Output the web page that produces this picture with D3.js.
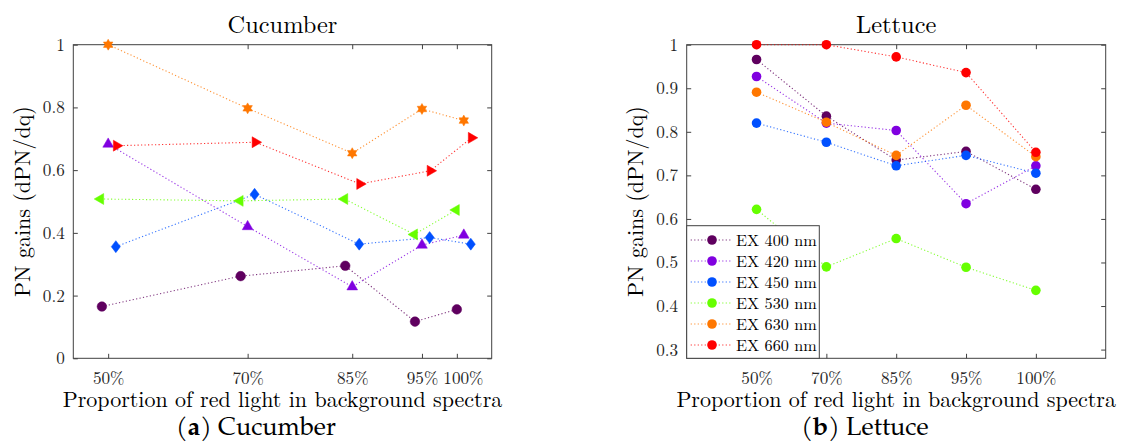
<!DOCTYPE html>
<html><head><meta charset="utf-8">
<script src="https://cdn.jsdelivr.net/npm/d3@7"></script>
<style>body{margin:0;background:#fff} svg{display:block}</style>
</head><body>
<svg id="c" width="1123" height="448"></svg>
<script>
// ---------- data ----------
const seriesNames = ["EX 400 nm","EX 420 nm","EX 450 nm","EX 530 nm","EX 630 nm","EX 660 nm"];
const seriesColors = ["#5f005f","#8000e0","#0050ff","#66ff00","#ff7700","#ff0000"];
const proportionTicks = [50,70,85,95,100];
const proportionLabels = ["50%","70%","85%","95%","100%"];
const cucYTicks = [0,0.2,0.4,0.6,0.8,1];
const letYTicks = [0.3,0.4,0.5,0.6,0.7,0.8,0.9,1];

// Cucumber (x positions are slightly offset per series in the original)
const cucX400 = [49.1,69.0,84.0,94.0,100.0];
const cucY400 = [0.165,0.262,0.295,0.117,0.156];
const cucX420 = [50.0,70.0,85.0,95.0,101.0];
const cucY420 = [0.683,0.420,0.228,0.361,0.393];
const cucX450 = [51.1,71.0,86.0,96.1,102.0];
const cucY450 = [0.356,0.523,0.364,0.385,0.364];
const cucX530 = [48.9,68.9,83.9,93.9,99.9];
const cucY530 = [0.508,0.502,0.508,0.395,0.473];
const cucX630 = [50.0,70.0,85.0,95.0,101.0];
const cucY630 = [1.000,0.797,0.654,0.795,0.758];
const cucX660 = [51.2,71.1,86.1,96.2,102.1];
const cucY660 = [0.678,0.689,0.556,0.598,0.703];

// Lettuce
const letY400 = [0.966,0.836,0.735,0.755,0.668];
const letY420 = [0.927,0.820,0.803,0.635,0.722];
const letY450 = [0.820,0.776,0.722,0.746,0.705];
const letY530 = [0.622,0.490,0.555,0.489,0.436];
const letY630 = [0.891,0.822,0.746,0.861,0.743];
const letY660 = [1.000,1.000,0.972,0.936,0.753];

// ---------- helpers ----------
const svg = d3.select("#c");
const FONT = "'Latin Modern Roman', 'Liberation Serif', serif";
const CAPFONT = "'TeX Gyre Pagella', 'P052', 'URW Palladio L', 'Palatino Linotype', 'Palatino', 'DejaVu Serif', serif";
const AX = "#404040";
const TICKFS = 17.2, LABFS = 22, TITFS = 24.4, LEGFS = 16.2;

const hexagram = { draw(ctx, size){ const R=Math.sqrt(size), r=R/Math.sqrt(3);
  for(let i=0;i<12;i++){ const a=-Math.PI/2+i*Math.PI/6, rr=i%2?r:R;
    const x=rr*Math.cos(a), y=rr*Math.sin(a); i?ctx.lineTo(x,y):ctx.moveTo(x,y);} ctx.closePath(); } };
const diamond = { draw(ctx, size){ const R=Math.sqrt(size), w=R*0.76;
  ctx.moveTo(0,-R); ctx.lineTo(w,0); ctx.lineTo(0,R); ctx.lineTo(-w,0); ctx.closePath(); } };
const circle = { draw(ctx,size){ const r=Math.sqrt(size); ctx.moveTo(r,0); ctx.arc(0,0,r,0,2*Math.PI);} };

function frame(g, x0, x1, y0, y1){
  g.append("rect").attr("x",x0).attr("y",y0).attr("width",x1-x0).attr("height",y1-y0)
   .attr("fill","none").attr("stroke",AX).attr("stroke-width",1);
}
function styleAxis(sel){
  sel.attr("font-family",null).attr("font-size",null);
  sel.select(".domain").remove();
  sel.selectAll(".tick line").attr("stroke",AX).attr("stroke-width",1);
  sel.selectAll(".tick text").style("font-family",FONT).style("font-size",TICKFS+"px").attr("fill","#262626");
}
function drawAxes(x, y, xTicks, xFmt, yTicks, yFmt, L, R, T, B){
  const g = svg.append("g");
  frame(g, L, R, T, B);
  const xb = g.append("g").attr("transform",`translate(0,${B})`)
    .call(d3.axisBottom(x).tickValues(xTicks).tickFormat(xFmt).tickSizeInner(-4.5).tickSizeOuter(0).tickPadding(13.5))
    .call(styleAxis);
  g.append("g").attr("transform",`translate(0,${T})`)
    .call(d3.axisTop(x).tickValues(xTicks).tickFormat("").tickSizeInner(-4.5).tickSizeOuter(0))
    .call(styleAxis);
  g.append("g").attr("transform",`translate(${L},0)`)
    .call(d3.axisLeft(y).tickValues(yTicks).tickFormat(yFmt).tickSizeInner(-4.5).tickSizeOuter(0).tickPadding(8.5))
    .call(styleAxis);
  g.append("g").attr("transform",`translate(${R},0)`)
    .call(d3.axisRight(y).tickValues(yTicks).tickFormat("").tickSizeInner(-4.5).tickSizeOuter(0))
    .call(styleAxis);
  return xb;
}
const captions = [];
function labels(title, cx, cy, ylabX, caption, capX, capLetter){
  svg.append("text").attr("x",cx).attr("y",33).attr("text-anchor","middle")
    .style("font-family",FONT).style("font-size",TITFS+"px").attr("fill","#000").text(title);
  svg.append("text").attr("x",cx).attr("y",406.5).attr("text-anchor","middle")
    .style("font-family",FONT).style("font-size",LABFS+"px").attr("fill","#000")
    .text("Proportion of red light in background spectra");
  svg.append("text").attr("transform",`translate(${ylabX},${cy}) rotate(-90)`).attr("text-anchor","middle")
    .style("font-family",FONT).style("font-size",LABFS+"px").attr("fill","#000").text("PN gains (dPN/dq)");
  const t = svg.append("text").attr("x",capX).attr("y",435).attr("text-anchor","middle")
    .style("font-family",CAPFONT).style("font-size","22px").attr("fill","#000");
  t.append("tspan").text("(");
  t.append("tspan").style("font-weight","bold").text(capLetter);
  t.append("tspan").text(") " + caption);
  captions.push(t);
}
const dotted = s => s.attr("fill","none").attr("stroke-width",1.1)
  .attr("stroke-dasharray","1.2,2.3").attr("stroke-opacity",0.8);

// ---------- Cucumber ----------
{
  const L=73.3, R=491.7, T=44.7, B=358.3;
  const x = d3.scaleLinear().domain([45,105]).range([L,R]);
  const y = d3.scaleLinear().domain([0,1]).range([B,T]);
  const xb = drawAxes(x, y, proportionTicks, (d,i)=>proportionLabels[i], cucYTicks, d3.format("~g"), L, R, T, B);
  // in the original the "100%" label sits a little to the right of its tick
  xb.selectAll(".tick text").filter(d=>d===100).attr("dx",6);
  const cx = [cucX400,cucX420,cucX450,cucX530,cucX630,cucX660];
  const cy = [cucY400,cucY420,cucY450,cucY530,cucY630,cucY660];
  const shapes = [
    {type:circle,size:4.8*4.8,rot:0},
    {type:d3.symbolTriangle,size:50,rot:0},
    {type:diamond,size:36,rot:0},
    {type:d3.symbolTriangle,size:52,rot:-90},
    {type:hexagram,size:30,rot:0},
    {type:d3.symbolTriangle,size:52,rot:90}
  ];
  const line = d3.line().x(d=>x(d[0])).y(d=>y(d[1]));
  cy.forEach((ys,k)=>{
    const pts = ys.map((v,i)=>[cx[k][i],v]);
    const g = svg.append("g");
    g.append("path").attr("d",line(pts)).attr("stroke",seriesColors[k]).call(dotted);
    g.selectAll("path.m").data(pts).join("path").attr("class","m")
      .attr("d",d3.symbol().type(shapes[k].type).size(shapes[k].size))
      .attr("transform",d=>`translate(${x(d[0])},${y(d[1])}) rotate(${shapes[k].rot})`)
      .attr("fill",seriesColors[k]).attr("stroke",seriesColors[k]).attr("stroke-width",0.5);
  });
  labels("Cucumber", (L+R)/2, (T+B)/2, 30, "Cucumber", 256, "a");
}

// ---------- Lettuce ----------
{
  const L=686.7, R=1105.7, T=44.7, B=358.3;
  const x = d3.scalePoint().domain(proportionLabels).range([L,R]).padding(1);
  const y = d3.scaleLinear().domain([0.28,1]).range([B,T]);
  drawAxes(x, y, proportionLabels, d=>d, letYTicks, d3.format("~g"), L, R, T, B);
  const ys = [letY400,letY420,letY450,letY530,letY630,letY660];
  const line = d3.line().x(d=>x(d[0])).y(d=>y(d[1]));
  ys.forEach((vals,k)=>{
    const pts = vals.map((v,i)=>[proportionLabels[i],v]);
    const g = svg.append("g");
    g.append("path").attr("d",line(pts)).attr("stroke",seriesColors[k]).call(dotted);
    g.selectAll("circle").data(pts).join("circle")
      .attr("cx",d=>x(d[0])).attr("cy",d=>y(d[1])).attr("r",4.8).attr("fill",seriesColors[k]);
  });
  // legend
  const lg = svg.append("g");
  lg.append("rect").attr("x",L).attr("y",225.7).attr("width",819.3-L).attr("height",B-225.7)
    .attr("fill","#fff").attr("stroke",AX).attr("stroke-width",1);
  seriesNames.forEach((n,k)=>{
    const yy = 240 + k*21;
    lg.append("line").attr("x1",690.7).attr("x2",732.7).attr("y1",yy).attr("y2",yy)
      .attr("stroke",seriesColors[k]).call(dotted);
    lg.append("circle").attr("cx",712).attr("cy",yy).attr("r",4.8).attr("fill",seriesColors[k]);
    lg.append("text").attr("x",736).attr("y",yy).attr("dy","0.35em")
      .style("font-family",FONT).style("font-size",LEGFS+"px").attr("fill","#000").text(n);
  });
  labels("Lettuce", (L+R)/2, (T+B)/2, 643, "Lettuce", 865, "b");
}

// fit caption size so "(a) Cucumber" spans ~160px as in the original
{
  const w = captions[0].node().getComputedTextLength();
  if (w > 0) {
    const fs = Math.max(16, Math.min(30, 22 * 160 / w));
    captions.forEach(t => t.style("font-size", fs + "px"));
  }
}
</script>
</body></html>
